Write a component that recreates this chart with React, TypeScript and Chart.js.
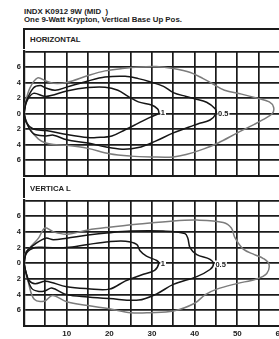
import React, { useEffect, useRef } from 'react';
import { Chart, registerables } from 'chart.js';

Chart.register(...registerables);

const TITLE_LINE_1 = 'INDX K0912 9W (MID  )';
const TITLE_LINE_2 = 'One 9-Watt Krypton, Vertical Base Up Pos.';
const PANEL_TITLES = ['HORIZONTAL', 'VERTICA L'];

const X_MIN = 0;
const X_MAX = 60;
const X_STEP = 5;
const X_LABEL_STEP = 10;
const Y_MIN = -8;
const Y_MAX = 8;
const Y_STEP = 2;

const CONTOUR_LABELS = ['1', '0.5', ''];
const CONTOUR_COLORS = ['#161616', '#161616', '#7c7c7c'];

// Horizontal panel contours [x, y]
const H_CONTOUR_1: number[][] = [
  [0, 0], [0.6, 1.5], [2.2, 2.6], [5.1, 2.2], [10, 2.9], [15, 3.35], [19, 3.4], [22, 3.0],
  [24.4, 2.2], [26.8, 1.5], [29.9, 1.1], [31.3, 0.6], [31.6, 0.2], [31.5, 0],
  [29.9, -0.4], [26.8, -1.25], [23.7, -2.1], [20.6, -2.9], [17, -3.1], [15, -3.1],
  [10, -2.7], [5.1, -2.2], [2.2, -2.0], [0.6, -1.2], [0, 0],
];
const H_CONTOUR_05: number[][] = [
  [0, 0], [0.5, 1.5], [2.2, 3.3], [3.8, 3.6], [5.1, 3.3], [7.3, 3.0], [10, 3.4], [15, 4.2],
  [19, 4.7], [23.7, 4.8], [26.8, 4.5], [29.5, 4.1], [32.7, 3.5], [35, 2.7], [38, 2.2],
  [40, 1.9], [42.8, 1.45], [44.8, 0.6], [45, 0],
  [43.6, -0.84], [41, -1.3], [39.9, -1.5], [35, -2.5], [30.7, -3.6], [26.8, -4.4],
  [23, -4.6], [19, -4.3], [15, -3.8], [10, -3.4], [6.9, -2.8], [5.1, -2.9], [2.2, -2.6],
  [0.6, -1.2], [0, 0],
];
const H_CONTOUR_OUTER: number[][] = [
  [0, 0], [0.3, 1.3], [1.4, 3.3], [3.2, 4.6], [5.1, 4.2], [6.9, 3.9], [10, 4.0], [15, 4.9],
  [19, 5.5], [23, 5.8], [27, 6.0], [31, 6.05], [35, 5.8], [39, 5.3], [42, 4.5], [44, 3.9],
  [47, 3.0], [51, 2.5], [54.5, 2.0], [57.5, 1.5], [58.5, 0.8], [58.2, 0],
  [56, -0.8], [54, -1.4], [50, -2.5], [45.5, -3.8], [42, -4.6], [38, -5.3], [35, -5.6],
  [30, -5.6], [25, -5.5], [20, -5.2], [15, -4.5], [10, -4.1], [6.9, -4.0], [5.1, -3.8],
  [3.4, -3.3], [1.4, -2.0], [0.3, -0.6], [0, 0],
];

// Vertical panel contours [x, y]
const V_CONTOUR_1: number[][] = [
  [0, 0], [0.6, 1.3], [2.6, 2.0], [5.1, 2.0], [10, 2.0], [15, 2.4], [20, 2.75], [23.8, 2.8],
  [26.4, 2.4], [27.2, 1.6], [28.7, 0.9], [31.1, 0.35], [31.6, 0],
  [30.6, -0.9], [27.5, -1.5], [23.8, -2.25], [20, -3.3], [15, -3.25], [10, -3.0],
  [5.1, -2.3], [2.6, -2.6], [1.2, -2.2], [0.4, -1.0], [0, 0],
];
const V_CONTOUR_05: number[][] = [
  [0, 0], [0.6, 1.5], [3.0, 2.6], [5.1, 3.2], [6.9, 3.0], [10, 3.2], [15, 3.6], [20, 3.9],
  [25, 4.1], [32.6, 4.1], [37.7, 3.8], [38.4, 3.2], [38.9, 2.0], [40.5, 1.1], [43.6, 0.5],
  [44.4, -0.1],
  [43.6, -0.8], [40.5, -1.7], [35, -2.7], [31.1, -3.9], [26.9, -4.7], [20, -4.5],
  [15, -4.3], [10, -4.0], [6.5, -3.15], [5, -3.5], [3.5, -3.6], [1.8, -3.2], [0.6, -1.5],
  [0, 0],
];
const V_CONTOUR_OUTER: number[][] = [
  [0, 0], [0.2, 1.1], [1.4, 2.0], [3.4, 3.2], [4.9, 4.5], [6.9, 4.0], [10, 3.7], [15, 4.25],
  [20, 4.6], [27, 5.0], [35, 5.4], [40.5, 5.5], [46.7, 5.2], [48.6, 4.5], [49.4, 3.3],
  [51.4, 1.8], [54, 1.1], [56.1, 0.6], [57.4, -0.1],
  [56.9, -1.3], [54.5, -2.0], [49.8, -2.6], [45.2, -3.3], [42.5, -4.0], [40, -5.1],
  [35, -6.1], [29.5, -6.3], [25, -6.3], [20, -5.8], [15, -5.4], [10, -4.9], [6.7, -4.1],
  [4.9, -4.8], [2.4, -4.6], [1.0, -2.4], [0.2, -0.6], [0, 0],
];

const H_CONTOURS = [H_CONTOUR_1, H_CONTOUR_05, H_CONTOUR_OUTER];
const V_CONTOURS = [V_CONTOUR_1, V_CONTOUR_05, V_CONTOUR_OUTER];

const FONT_FAMILY = '"Liberation Sans", Arial, sans-serif';
const GRID_COLOR = '#1a1a1a';

const tipLabelPlugin = {
  id: 'tipLabels',
  afterDatasetsDraw(chart: any) {
    const ctx = chart.ctx;
    const xs = chart.scales.x;
    const ys = chart.scales.y;
    chart.data.datasets.forEach((ds: any) => {
      const text = ds.label;
      if (!text) return;
      let tip = ds.data[0];
      for (const p of ds.data) if (p.x > tip.x) tip = p;
      const px = xs.getPixelForValue(tip.x) + 1.5;
      const py = ys.getPixelForValue(tip.y);
      ctx.save();
      ctx.font = `bold 7.5px ${FONT_FAMILY}`;
      const w = ctx.measureText(text).width;
      ctx.fillStyle = '#ffffff';
      ctx.fillRect(px, py - 3.5, w + 1.5, 7);
      ctx.fillStyle = '#222222';
      ctx.textBaseline = 'middle';
      ctx.textAlign = 'left';
      ctx.fillText(text, px + 0.5, py + 0.5);
      ctx.restore();
    });
  },
};

type PanelProps = {
  contours: number[][][];
  top: number;
  height: number;
  showXLabels: boolean;
};

function ContourPanel({ contours, top, height, showXLabels }: PanelProps) {
  const ref = useRef<HTMLCanvasElement | null>(null);
  useEffect(() => {
    if (!ref.current) return;
    const datasets = contours.map((c, i) => ({
      label: CONTOUR_LABELS[i],
      data: c.map(([x, y]) => ({ x, y })),
      showLine: true,
      borderColor: CONTOUR_COLORS[i],
      backgroundColor: CONTOUR_COLORS[i],
      borderWidth: 1.5,
      pointRadius: 0,
      tension: 0.35,
      fill: false,
    }));
    const chart = new Chart(ref.current, {
      type: 'scatter',
      data: { datasets: datasets as any },
      plugins: [tipLabelPlugin],
      options: {
        animation: false,
        responsive: false,
        devicePixelRatio: 1,
        layout: { padding: { top: 5, bottom: showXLabels ? 0 : 5, left: 0, right: 10 } },
        plugins: { legend: { display: false }, tooltip: { enabled: false }, title: { display: false } },
        scales: {
          x: {
            type: 'linear',
            min: X_MIN,
            max: X_MAX,
            grid: { color: GRID_COLOR, lineWidth: 1.7, drawTicks: false },
            border: { color: GRID_COLOR, width: 2 },
            ticks: {
              display: showXLabels,
              stepSize: X_STEP,
              autoSkip: false,
              maxRotation: 0,
              padding: 3,
              color: '#222',
              font: { family: FONT_FAMILY, size: 8, weight: 'bold' },
              callback: (v: any) => (Number(v) > 0 && Number(v) % X_LABEL_STEP === 0 ? String(v) : ''),
            },
            afterFit: (s: any) => {
              s.height = showXLabels ? 13 : 0;
            },
          },
          y: {
            type: 'linear',
            min: Y_MIN,
            max: Y_MAX,
            grid: { color: GRID_COLOR, lineWidth: 1.7, drawTicks: false },
            border: { color: GRID_COLOR, width: 2.2 },
            ticks: {
              stepSize: Y_STEP,
              padding: 3,
              color: '#222',
              font: { family: FONT_FAMILY, size: 7.5, weight: 'bold' },
              callback: (v: any) => (Math.abs(Number(v)) === Y_MAX ? '' : String(Math.abs(Number(v)))),
            },
            afterFit: (s: any) => {
              s.width = 24;
            },
          },
        },
      } as any,
    });
    return () => chart.destroy();
  }, [contours, showXLabels]);
  return (
    <canvas
      ref={ref}
      width={290}
      height={height}
      style={{ position: 'absolute', left: 0, top, width: 290, height, display: 'block' }}
    />
  );
}

const textStyle: React.CSSProperties = {
  fontFamily: FONT_FAMILY,
  fontWeight: 'bold',
  color: '#222',
  whiteSpace: 'pre',
};

export default function App() {
  return (
    <div
      style={{
        position: 'absolute',
        left: 0,
        top: 0,
        width: 279,
        height: 339,
        overflow: 'hidden',
        background: '#fff',
      }}
    >
      <div style={{ ...textStyle, position: 'absolute', left: 24, top: 8, fontSize: 7.85, lineHeight: '8px' }}>
        <div>{TITLE_LINE_1}</div>
        <div>{TITLE_LINE_2}</div>
      </div>
      <div
        style={{
          position: 'absolute',
          left: 23,
          top: 28,
          width: 270,
          height: 21,
          borderTop: '2px solid #1a1a1a',
          borderLeft: '2px solid #1a1a1a',
          boxSizing: 'border-box',
        }}
      >
        <div style={{ ...textStyle, position: 'absolute', left: 5, top: 5.5, fontSize: 7.8, lineHeight: '8px' }}>
          {PANEL_TITLES[0]}
        </div>
      </div>
      <ContourPanel contours={H_CONTOURS} top={44} height={139} showXLabels={false} />
      <div
        style={{
          position: 'absolute',
          left: 23,
          top: 178,
          width: 270,
          height: 20,
          borderLeft: '2px solid #1a1a1a',
          boxSizing: 'border-box',
        }}
      >
        <div style={{ ...textStyle, position: 'absolute', left: 5, top: 6.5, fontSize: 7.8, lineHeight: '8px' }}>
          {PANEL_TITLES[1]}
        </div>
      </div>
      <ContourPanel contours={V_CONTOURS} top={193} height={146} showXLabels={true} />
    </div>
  );
}
